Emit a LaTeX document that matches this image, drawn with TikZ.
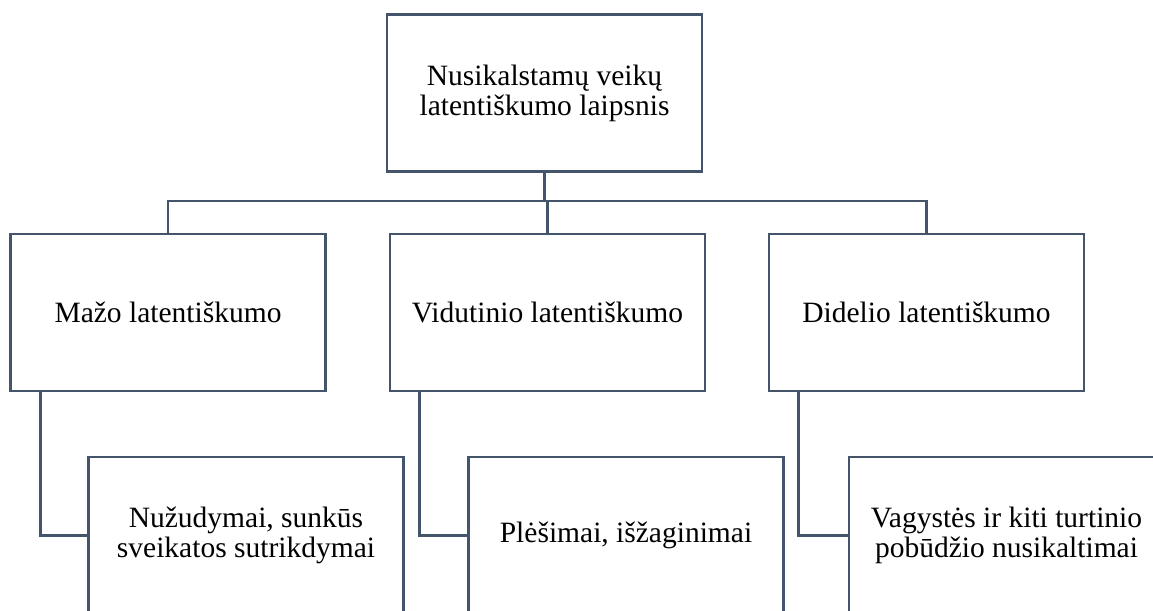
\documentclass[tikz,border=0pt]{standalone}
\usepackage{fontspec}
\setmainfont{Liberation Serif}
\begin{document}
\begin{tikzpicture}[x=1pt,y=-1pt,
  box/.style={draw=linec, line width=2.7pt, fill=white, minimum width=315pt, minimum height=157pt, inner sep=0pt, align=center, font=\fontsize{29.5}{30}\selectfont, text=black},
  conn/.style={draw=linec, line width=2.7pt}]
\definecolor{linec}{HTML}{44546A}
\useasboundingbox (0,0) rectangle (1153,610);
\clip (0,0) rectangle (1153,610);
\node[box] (top) at (544.5,93) {Nusikalstamų veikų\\latentiškumo laipsnis};
\node[box] (l1) at (168,312.5) {Mažo latentiškumo};
\node[box] (m1) at (547.5,312.5) {Vidutinio latentiškumo};
\node[box] (r1) at (926.5,312.5) {Didelio latentiškumo};
\node[box] (l2) at (246,535.5) {Nužudymai, sunkūs\\sveikatos sutrikdymai};
\node[box] (m2) at (626,535.5) {Plėšimai, išžaginimai};
\node[box] (r2) at (1006.5,535.5) {Vagystės ir kiti turtinio\\pobūdžio nusikaltimai};
\coordinate (bus) at (0,201);
\draw[conn] (top.south) -- (top.south |- bus);
\draw[conn] (l1.north) -- (l1.north |- bus) -- (r1.north |- bus) -- (r1.north);
\draw[conn] (m1.north) -- (m1.north |- bus);
\draw[conn] ([xshift=31pt]l1.south west) |- (l2.west);
\draw[conn] ([xshift=31pt]m1.south west) |- (m2.west);
\draw[conn] ([xshift=31pt]r1.south west) |- (r2.west);
\end{tikzpicture}
\end{document}
